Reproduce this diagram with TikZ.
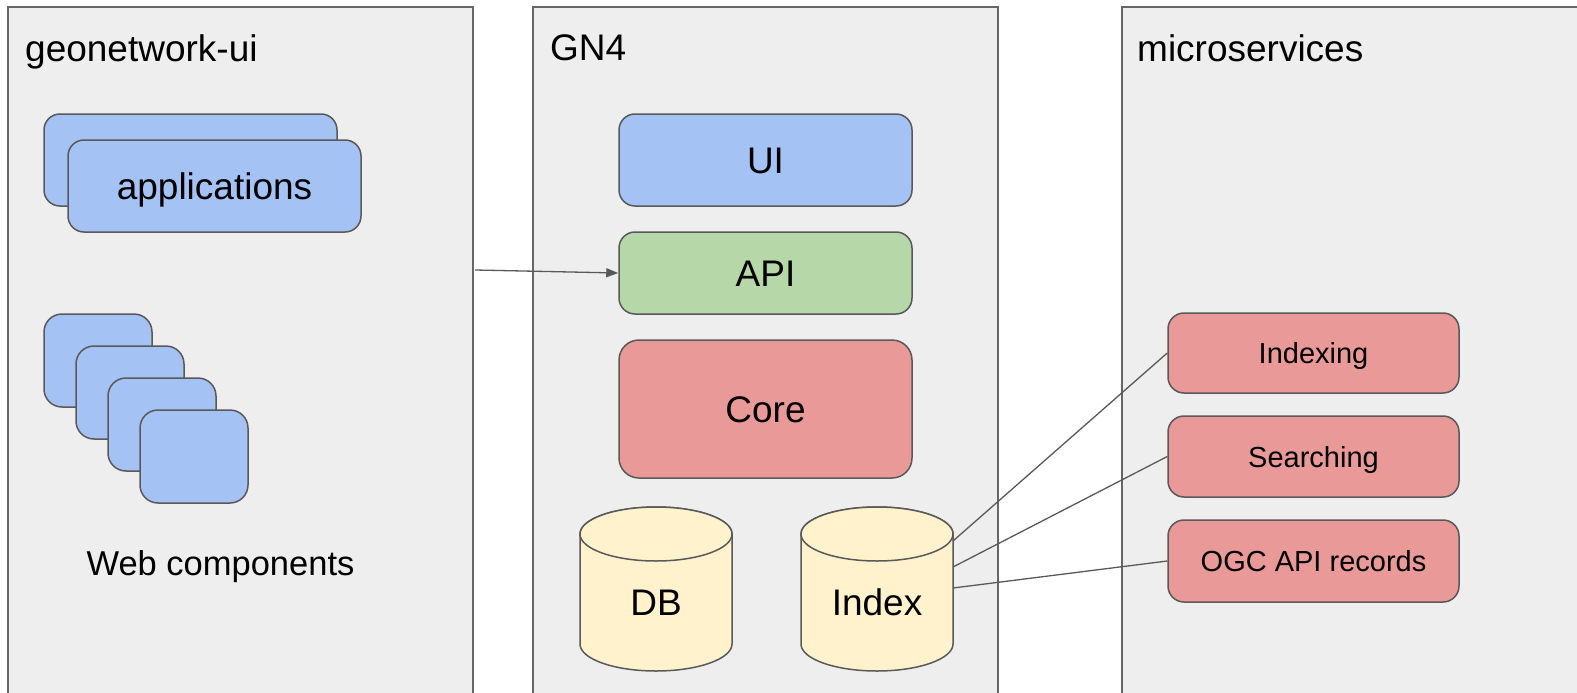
\documentclass[tikz,border=0pt]{standalone}
\usepackage{fontspec}
\setmainfont{Liberation Sans}
\usetikzlibrary{arrows.meta}
\definecolor{panelfill}{HTML}{EEEEEE}
\definecolor{panelline}{HTML}{666666}
\definecolor{edge}{HTML}{595959}
\definecolor{bluefill}{HTML}{A4C2F4}
\definecolor{greenfill}{HTML}{B6D7A8}
\definecolor{redfill}{HTML}{EA9999}
\definecolor{yellowfill}{HTML}{FFF2CC}
\tikzset{
  panel/.style={draw=panelline, fill=panelfill, line width=1.3pt},
  box/.style={draw=edge, line width=1.5pt, rounded corners=16pt, inner sep=0pt},
  bluebox/.style={box, fill=bluefill},
  greenbox/.style={box, fill=greenfill},
  redbox/.style={box, fill=redfill},
  cyl/.style={draw=edge, fill=yellowfill, line width=1.5pt},
  bigtxt/.style={inner sep=0pt, anchor=base, font=\fontsize{37}{44}\selectfont},
  titletxt/.style={inner sep=0pt, anchor=base west, font=\fontsize{37}{44}\selectfont},
  smalltxt/.style={inner sep=0pt, anchor=base, font=\fontsize{29}{35}\selectfont},
  conn/.style={draw=edge, line width=1.3pt},
}
\begin{document}
\begin{tikzpicture}[x=1pt, y=-1pt]
\useasboundingbox (0,0) rectangle (1577,693);
\clip (0,0) rectangle (1577,693);
\fill[white] (0,0) rectangle (1577,693);
% panels
\path[panel] (8,7) rectangle (473,720);
\path[panel] (533,7) rectangle (998,720);
\path[panel] (1122,7) rectangle (1620,720);
\node[titletxt] (t1) at (25,62) {geonetwork-ui};
\node[titletxt] (t2) at (550,61) {GN4};
\node[titletxt] (t3) at (1137,62) {microservices};
% applications
\node[bluebox, minimum width=293, minimum height=92] (appback) at (190.5,160) {};
\node[bluebox, minimum width=293, minimum height=92] (app) at (214.5,186) {};
\node[bigtxt] (applbl) at (214.5,199.5) {applications};
% web components
\node[bluebox, rounded corners=18pt, minimum width=108, minimum height=93] (wc1) at (98,360.5) {};
\node[bluebox, rounded corners=18pt, minimum width=108, minimum height=93] (wc2) at (130,392.5) {};
\node[bluebox, rounded corners=18pt, minimum width=108, minimum height=93] (wc3) at (162,424.5) {};
\node[bluebox, rounded corners=18pt, minimum width=108, minimum height=93] (wc4) at (194,456.5) {};
\node[inner sep=0pt, anchor=base, font=\fontsize{34.5}{41}\selectfont] (wclbl) at (220.5,575) {Web components};
% GN4
\node[bluebox, minimum width=293, minimum height=92] (ui) at (765.5,160) {};
\node[bigtxt] at (765.5,173) {UI};
\node[greenbox, minimum width=293, minimum height=82] (api) at (765.5,273) {};
\node[bigtxt] at (765.5,286.5) {API};
\node[redbox, rounded corners=20pt, minimum width=293, minimum height=138] (core) at (765.5,409) {};
\node[bigtxt] at (765.5,422) {Core};
% cylinders
\path[cyl] (580,534) -- (580,644) arc[start angle=180, end angle=360, x radius=76pt, y radius=27pt] -- (732,534) arc[start angle=0, end angle=180, x radius=76pt, y radius=27pt] -- cycle;
\draw[cyl] (656,534) ellipse [x radius=76pt, y radius=27pt];
\node[bigtxt] (db) at (656,615) {DB};
\path[cyl] (801,534) -- (801,644) arc[start angle=180, end angle=360, x radius=76pt, y radius=27pt] -- (953,534) arc[start angle=0, end angle=180, x radius=76pt, y radius=27pt] -- cycle;
\draw[cyl] (877,534) ellipse [x radius=76pt, y radius=27pt];
\node[bigtxt] (index) at (877,615) {Index};
% microservices
\node[redbox, minimum width=291, minimum height=80] (idxing) at (1313.5,353) {};
\node[smalltxt] at (1313.5,363.5) {Indexing};
\node[redbox, minimum width=291, minimum height=81] (search) at (1313.5,456.5) {};
\node[smalltxt] at (1313.5,467) {Searching};
\node[redbox, minimum width=291, minimum height=82] (ogc) at (1313.5,561) {};
\node[smalltxt] at (1313.5,571.5) {OGC API records};
% connectors
\coordinate (src) at (475,270);
\coordinate (ix1) at (953,541);
\coordinate (ix2) at (953,567);
\coordinate (ix3) at (953,588);
\draw[conn, -{Triangle[length=12pt, width=9pt]}] (src) -- (api.west);
\draw[conn] (ix1) -- (idxing.west);
\draw[conn] (ix2) -- (search.west);
\draw[conn] (ix3) -- (ogc.west);
\end{tikzpicture}
\end{document}
